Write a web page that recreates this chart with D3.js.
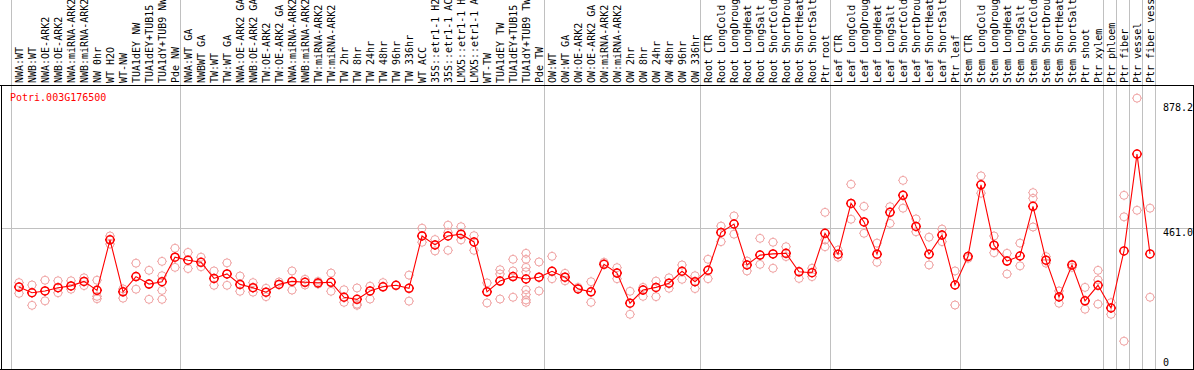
<!DOCTYPE html>
<html>
<head>
<meta charset="utf-8">
<script src="https://cdn.jsdelivr.net/npm/d3@7"></script>
<style>
  body { margin: 0; background: #fff; }
  svg { display: block; font-family: "DejaVu Sans Mono", monospace; font-size: 10px; }
</style>
</head>
<body>
<div id="chart"></div>
<script>
// ==============================
// DATA
// ==============================
const geneId = 'Potri.003G176500';

const samples = [
  'NWA:WT', 'NWB:WT', 'NWA:OE-ARK2', 'NWB:OE-ARK2', 'NWA:miRNA-ARK2', 'NWB:miRNA-ARK2',
  'NW 0hr', 'WT H2O', 'WT-NW', 'TUA1dEY NW', 'TUA1dEY+TUB15', 'TUA1dY+TUB9 NW', 'Pde NW',
  'NWA:WT GA', 'NWBWT GA', 'TW:WT', 'TW:WT GA', 'NWA:OE-ARK2 GA', 'NWB:OE-ARK2 GA',
  'TW:OE-ARK2', 'TW:OE-ARK2 GA', 'NWA:miRNA-ARK2 GA', 'NWB:miRNA-ARK2 GA', 'TW:miRNA-ARK2',
  'TW:miRNA-ARK2 GA', 'TW 2hr', 'TW 8hr', 'TW 24hr', 'TW 48hr', 'TW 96hr', 'TW 336hr',
  'WT ACC', '35S::etr1-1 H2O', '35S::etr1-1 ACC', 'LMX5::etr1-1 H2O', 'LMX5::etr1-1 ACC',
  'WT-TW', 'TUA1dEY TW', 'TUA1dEY+TUB15 ', 'TUA1dY+TUB9 TW', 'Pde TW',
  'OW:WT', 'OW:WT GA', 'OW:OE-ARK2', 'OW:OE-ARK2 GA', 'OW:miRNA-ARK2', 'OW:miRNA-ARK2 GA',
  'OW 2hr', 'OW 8hr', 'OW 24hr', 'OW 48hr', 'OW 96hr', 'OW 336hr',
  'Root CTR', 'Root LongCold', 'Root LongDrought', 'Root LongHeat', 'Root LongSalt',
  'Root ShortCold', 'Root ShortDrought', 'Root ShortHeat', 'Root ShortSalt', 'Ptr root',
  'Leaf CTR', 'Leaf LongCold', 'Leaf LongDrought', 'Leaf LongHeat', 'Leaf LongSalt',
  'Leaf ShortCold', 'Leaf ShortDrought', 'Leaf ShortHeat', 'Leaf ShortSalt', 'Ptr leaf',
  'Stem CTR', 'Stem LongCold', 'Stem LongDrought', 'Stem LongHeat', 'Stem LongSalt',
  'Stem ShortCold', 'Stem ShortDrought', 'Stem ShortHeat', 'Stem ShortSalt', 'Ptr shoot', 'Ptr xylem',
  'Ptr phloem', 'Ptr fiber', 'Ptr vessel', 'Ptr fiber vessel',
];

// first sample of each group (a separator line is drawn before it)
const groupStarts = ['NWA:WT', 'NWA:WT GA', 'OW:WT', 'Root CTR', 'Leaf CTR', 'Stem CTR',
  'Ptr phloem', 'Ptr fiber', 'Ptr vessel', 'Ptr fiber vessel'];

// mean expression per sample
const means = [
  264, 245, 251, 262, 268, 283, 253, 422, 248, 299, 274, 282, 364,
  354, 347, 293, 308, 273, 262, 247, 273, 283, 280, 278, 280, 230, 223, 251, 265, 270,
  260, 435, 405, 435, 441, 415, 248, 284, 299, 291, 297,
  317, 297, 258, 248, 340, 311, 210, 254, 263, 277, 317, 282,
  320, 447, 475, 338, 371, 375, 377, 315, 312, 444,
  374, 544, 482, 374, 514, 571, 467, 374, 438, 271,
  366, 606, 404, 351, 368, 534, 354, 231, 338, 218, 270,
  194, 385, 709, 375,
];

// replicate values per sample
const replicates = [
  [279, 264, 243], [271, 245, 203], [287, 251, 218], [285, 262, 245], [285, 268, 257],
  [295, 283, 269], [287, 253, 233, 225], [435, 422, 408], [258, 248, 227], [344, 299, 257],
  [320, 274, 223], [350, 302, 253, 223], [394, 364, 330],
  [380, 326], [364, 332], [318, 293, 270], [345, 308, 270], [301, 273, 250], [279, 262, 247],
  [260, 247, 232], [281, 273], [318, 283, 254], [290, 280, 271], [283, 278, 274],
  [311, 280, 250], [255, 230, 213], [261, 207, 203], [267, 251, 224], [279, 265], [270],
  [304, 260, 217], [461, 435, 414], [423, 405, 385], [471, 447, 387], [466, 441, 422],
  [436, 415, 387], [278, 248, 211], [322, 308, 284, 224], [357, 318, 299, 230],
  [377, 357, 330, 315, 291, 255, 239, 221, 213], [348, 297, 251],
  [367, 317, 292], [310, 297, 285], [263, 258], [282, 248, 213], [347, 340], [329, 311, 292],
  [250, 210, 173], [263, 254, 233], [284, 263, 232], [295, 277, 260], [338, 317, 290],
  [302, 282, 259],
  [357, 320, 292], [468, 447, 416], [502, 475, 441], [351, 338, 318], [427, 371, 340],
  [414, 375, 327], [399, 377, 366], [316, 293], [327, 299], [514, 422, 399],
  [388, 364], [608, 544, 491], [534, 482, 444], [411, 374, 347], [533, 514, 477],
  [621, 571, 528], [492, 467, 449], [431, 374, 338], [458, 438, 416], [318, 271, 204],
  [368, 360], [636, 606, 578], [435, 404, 379], [377, 351, 308], [411, 368, 335],
  [580, 561, 465], [366, 354, 344], [251, 231, 210], [340, 330], [263, 218, 190],
  [320, 288, 207],
  [212, 194, 173], [571, 499, 83], [896, 521], [528, 230],
];

const tickValues = [0, 461.0, 878.2];
const gridValues = [461.0];

// ==============================
// RENDER
// ==============================
function renderExpressionChart(selector) {
  const W = 1194;
  const H = 370;
  const frame = { left: 1, right: 1193, top: 85, bottom: 369 };
  const colW = 13;
  const firstCol = 11;
  const meanColor = '#ff0000';
  const repColor = '#f0a4a4';
  const gridColor = '#c0c0c0';

  const svg = d3.select(selector)
    .append('svg')
    .attr('width', W)
    .attr('height', H);

  const x = d3.scaleBand()
    .domain(samples)
    .range([firstCol, firstCol + colW * samples.length])
    .paddingInner(0)
    .paddingOuter(0);
  const cx = (name) => x(name) + 8;

  const y = d3.scaleLinear()
    .domain([0, 938])
    .range([366, 85.6]);

  // grid: horizontal
  svg.selectAll('line.hgrid')
    .data(gridValues)
    .join('line')
    .attr('class', 'hgrid')
    .attr('x1', frame.left).attr('x2', frame.right)
    .attr('y1', (d) => Math.round(y(d)) + 0.5)
    .attr('y2', (d) => Math.round(y(d)) + 0.5)
    .attr('stroke', gridColor);

  // grid: group separators (full height, through labels)
  const sepX = groupStarts.map((g) => x(g)).concat([x.range()[1]]);
  svg.selectAll('line.vgrid')
    .data(sepX)
    .join('line')
    .attr('class', 'vgrid')
    .attr('x1', (d) => d + 0.5).attr('x2', (d) => d + 0.5)
    .attr('y1', 0).attr('y2', frame.bottom)
    .attr('stroke', gridColor);

  // frame
  svg.append('line')
    .attr('x1', 0).attr('x2', W)
    .attr('y1', frame.top + 0.5).attr('y2', frame.top + 0.5)
    .attr('stroke', '#000');
  svg.append('line')
    .attr('x1', 0).attr('x2', W)
    .attr('y1', frame.bottom + 0.5).attr('y2', frame.bottom + 0.5)
    .attr('stroke', '#000');
  [frame.left, frame.right].forEach((fx) => {
    svg.append('line')
      .attr('x1', fx + 0.5).attr('x2', fx + 0.5)
      .attr('y1', frame.top).attr('y2', frame.bottom + 1)
      .attr('stroke', '#000');
  });

  // sample labels, rotated, reading upward (long ones run off the top, as in the source)
  svg.selectAll('text.sample')
    .data(samples)
    .join('text')
    .attr('class', 'sample')
    .attr('transform', (d) => `translate(${x(d) + 11.7},83) rotate(-90)`)
    .attr('fill', '#000')
    .text((d) => d.trim());

  // right axis labels
  svg.selectAll('text.tick')
    .data(tickValues)
    .join('text')
    .attr('class', 'tick')
    .attr('x', 1163)
    .attr('y', (d) => Math.min(y(d) + 8, 366))
    .attr('fill', '#000')
    .text((d) => (d === 0 ? '0' : d3.format('.1f')(d)));

  // gene title
  svg.append('text')
    .attr('x', 10)
    .attr('y', 101)
    .attr('fill', meanColor)
    .text(geneId);

  // marker: circle with four small ticks
  const marker = (r) => {
    const p = d3.path();
    p.moveTo(r, 0);
    p.arc(0, 0, r, 0, Math.PI * 2);
    [[0, -1], [0, 1], [-1, 0], [1, 0]].forEach(([dx, dy]) => {
      p.moveTo(dx * r, dy * r);
      p.lineTo(dx * (r + 1), dy * (r + 1));
    });
    return p.toString();
  };

  // replicates
  const reps = samples.flatMap((s, i) => replicates[i].map((v) => ({ s, v })));
  svg.selectAll('path.rep')
    .data(reps)
    .join('path')
    .attr('class', 'rep')
    .attr('transform', (d) => `translate(${cx(d.s)},${y(d.v)})`)
    .attr('d', marker(4))
    .attr('fill', 'none')
    .attr('stroke', repColor)
    .attr('stroke-width', 1);

  // mean line
  const meanData = samples.map((s, i) => ({ s, v: means[i] }));
  svg.append('path')
    .datum(meanData)
    .attr('fill', 'none')
    .attr('stroke', meanColor)
    .attr('stroke-width', 1.1)
    .attr('d', d3.line().x((d) => cx(d.s)).y((d) => y(d.v)));

  svg.selectAll('path.mean')
    .data(meanData)
    .join('path')
    .attr('class', 'mean')
    .attr('transform', (d) => `translate(${cx(d.s)},${y(d.v)})`)
    .attr('d', marker(4))
    .attr('fill', 'none')
    .attr('stroke', meanColor)
    .attr('stroke-width', 1.5);
}

renderExpressionChart('#chart');
</script>
</body>
</html>
